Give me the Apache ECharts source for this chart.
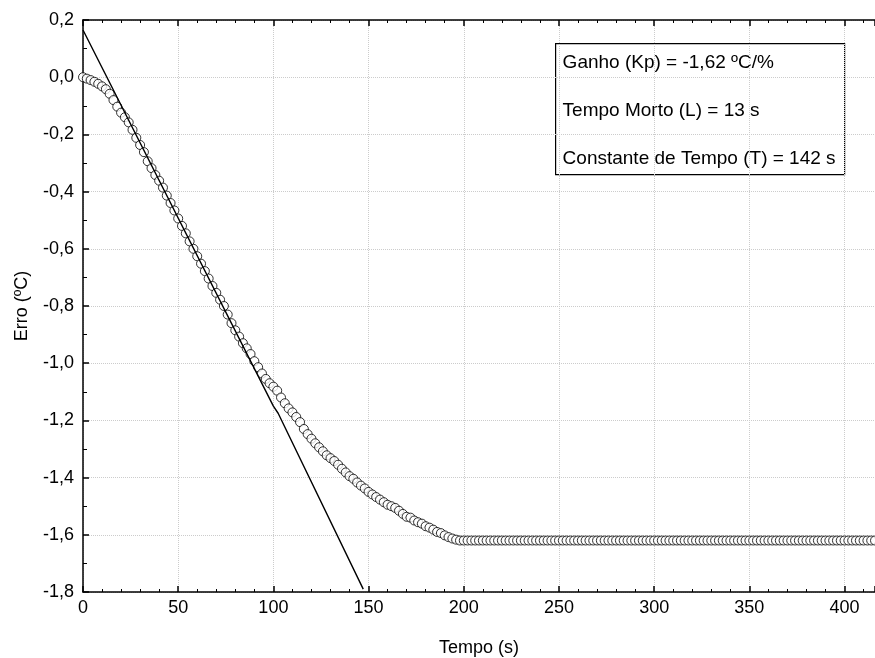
<!DOCTYPE html>
<html><head><meta charset="utf-8">
<script src="https://cdn.jsdelivr.net/npm/echarts@6/dist/echarts.min.js"></script>
<style>html,body{margin:0;padding:0;background:#fff}#c{width:875px;height:658px}</style>
</head><body><div id="c"></div>
<script>
// Measured error (ºC) vs time (s)
const descentTime = [0,2,4,6,8,10,12,14,16,18,20,22,24,26,28,30,32,34,36,38,40,42,44,46,48,50,52,54,56,58,60,62,64,66,68,70,72,74,76,78,80,82,84,86,88,90,92,94,96,98,100,102,104,106,108,110,112,114,116,118,120,122,124,126,128,130,132,134,136,138,140,142,144,146,148,150,152,154,156,158,160,162,164,166,168,170,172,174,176,178,180,182,184,186,188,190,192,194,196,198];
const descentErro = [0.000,-0.005,-0.010,-0.016,-0.023,-0.032,-0.042,-0.058,-0.080,-0.103,-0.124,-0.140,-0.158,-0.184,-0.212,-0.237,-0.262,-0.294,-0.318,-0.342,-0.362,-0.386,-0.414,-0.440,-0.466,-0.494,-0.520,-0.546,-0.574,-0.600,-0.626,-0.652,-0.678,-0.704,-0.730,-0.754,-0.778,-0.800,-0.830,-0.860,-0.885,-0.907,-0.930,-0.948,-0.968,-0.993,-1.014,-1.036,-1.055,-1.070,-1.082,-1.096,-1.120,-1.140,-1.158,-1.172,-1.188,-1.206,-1.230,-1.248,-1.264,-1.280,-1.294,-1.308,-1.322,-1.332,-1.342,-1.355,-1.369,-1.382,-1.395,-1.404,-1.417,-1.428,-1.438,-1.450,-1.459,-1.468,-1.477,-1.486,-1.495,-1.500,-1.506,-1.516,-1.527,-1.537,-1.540,-1.550,-1.556,-1.561,-1.570,-1.575,-1.582,-1.590,-1.594,-1.602,-1.608,-1.613,-1.617,-1.620];
const plateauTime = [200,202,204,206,208,210,212,214,216,218,220,222,224,226,228,230,232,234,236,238,240,242,244,246,248,250,252,254,256,258,260,262,264,266,268,270,272,274,276,278,280,282,284,286,288,290,292,294,296,298,300,302,304,306,308,310,312,314,316,318,320,322,324,326,328,330,332,334,336,338,340,342,344,346,348,350,352,354,356,358,360,362,364,366,368,370,372,374,376,378,380,382,384,386,388,390,392,394,396,398,400,402,404,406,408,410,412,414,416];
const plateauErro = [-1.62,-1.62,-1.62,-1.62,-1.62,-1.62,-1.62,-1.62,-1.62,-1.62,-1.62,-1.62,-1.62,-1.62,-1.62,-1.62,-1.62,-1.62,-1.62,-1.62,-1.62,-1.62,-1.62,-1.62,-1.62,-1.62,-1.62,-1.62,-1.62,-1.62,-1.62,-1.62,-1.62,-1.62,-1.62,-1.62,-1.62,-1.62,-1.62,-1.62,-1.62,-1.62,-1.62,-1.62,-1.62,-1.62,-1.62,-1.62,-1.62,-1.62,-1.62,-1.62,-1.62,-1.62,-1.62,-1.62,-1.62,-1.62,-1.62,-1.62,-1.62,-1.62,-1.62,-1.62,-1.62,-1.62,-1.62,-1.62,-1.62,-1.62,-1.62,-1.62,-1.62,-1.62,-1.62,-1.62,-1.62,-1.62,-1.62,-1.62,-1.62,-1.62,-1.62,-1.62,-1.62,-1.62,-1.62,-1.62,-1.62,-1.62,-1.62,-1.62,-1.62,-1.62,-1.62,-1.62,-1.62,-1.62,-1.62,-1.62,-1.62,-1.62,-1.62,-1.62,-1.62,-1.62,-1.62,-1.62,-1.62];
// Tangent line (Ziegler-Nichols construction)
const tangentTime = [0, 100, 102.5, 147.2];
const tangentErro = [0.165, -1.150, -1.175, -1.790];
// Annotation text
const infoLines = ['Ganho (Kp) = -1,62 ºC/%', 'Tempo Morto (L) = 13 s', 'Constante de Tempo (T) = 142 s'];
const xName = 'Tempo (s)';
const yName = 'Erro (ºC)';
const xRange = [0, 416], xStep = 50;
const yRange = [-1.8, 0.2], yStep = 0.2;

const measured = descentTime.map((t, i) => [t, descentErro[i]])
  .concat(plateauTime.map((t, i) => [t, plateauErro[i]]));
const tangent = tangentTime.map((t, i) => [t, tangentErro[i]]);

const FONT = 'Liberation Sans, Arial, sans-serif';
const fmtY = v => { if (Math.abs(v) < 1e-9) v = 0; return v.toFixed(1).replace('.', ','); };
const fmtX = v => (Math.abs(v % xStep) < 1e-6 ? String(Math.round(v)) : '');

const chart = echarts.init(document.getElementById('c'), null, { renderer: 'canvas' });
const axisLine = { show: true, onZero: false, lineStyle: { color: '#000', width: 1.5 } };
chart.setOption({
  animation: false,
  backgroundColor: '#fff',
  grid: { left: 83, right: 0, top: 20, bottom: 66, containLabel: false, outerBoundsMode: 'none' },
  xAxis: [{
    type: 'value', min: xRange[0], max: xRange[1], interval: xStep,
    name: xName, nameLocation: 'middle', nameGap: 47,
    nameTextStyle: { color: '#000', fontSize: 18, fontFamily: FONT },
    axisLine: axisLine,
    axisTick: { show: true, inside: true, length: 6, lineStyle: { color: '#000', width: 1.5 } },
    minorTick: { show: true, splitNumber: 5, length: 3, lineStyle: { color: '#000', width: 1 } },
    axisLabel: { color: '#000', fontSize: 18, fontFamily: FONT, margin: 7, formatter: fmtX, showMaxLabel: false },
    splitLine: { show: true, lineStyle: { color: '#cccccc', type: 'dotted', width: 1 } }
  }, {
    type: 'value', position: 'top', min: xRange[0], max: xRange[1], interval: xStep,
    axisLine: axisLine,
    axisTick: { show: true, inside: true, length: 6, lineStyle: { color: '#000', width: 1.5 } },
    minorTick: { show: true, splitNumber: 5, length: 3, lineStyle: { color: '#000', width: 1 } },
    axisLabel: { show: false }, splitLine: { show: false }
  }],
  yAxis: {
    type: 'value', min: yRange[0], max: yRange[1], interval: yStep,
    name: yName, nameLocation: 'middle', nameGap: 52,
    nameTextStyle: { color: '#000', fontSize: 18, fontFamily: FONT },
    axisLine: axisLine,
    axisTick: { show: true, inside: true, length: 6, lineStyle: { color: '#000', width: 1.5 } },
    minorTick: { show: true, splitNumber: 2, length: 4, lineStyle: { color: '#000', width: 1 } },
    axisLabel: { color: '#000', fontSize: 18, fontFamily: FONT, margin: 9, formatter: fmtY },
    splitLine: { show: true, lineStyle: { color: '#cccccc', type: 'dotted', width: 1 } }
  },
  series: [{
    type: 'scatter', data: measured, symbol: 'circle', symbolSize: 9,
    itemStyle: { color: '#fff', borderColor: '#000', borderWidth: 1 }, z: 3, clip: false
  }, {
    type: 'line', data: tangent, showSymbol: false, symbol: 'none',
    lineStyle: { color: '#000', width: 1.4 }, z: 4
  }],
  graphic: [{
    type: 'group', left: 555, top: 43, z: 10,
    children: [
      { type: 'rect', shape: { x: 0, y: 0, width: 289, height: 131 }, style: { fill: '#fff', stroke: '#000', lineWidth: 1.2 } },
      { type: 'text', x: 7, y: 19, style: { text: infoLines[0], fill: '#000', font: '19px ' + FONT, textVerticalAlign: 'middle' } },
      { type: 'text', x: 7, y: 67, style: { text: infoLines[1], fill: '#000', font: '19px ' + FONT, textVerticalAlign: 'middle' } },
      { type: 'text', x: 7, y: 115, style: { text: infoLines[2], fill: '#000', font: '19px ' + FONT, textVerticalAlign: 'middle' } }
    ]
  }]
});
</script></body></html>
